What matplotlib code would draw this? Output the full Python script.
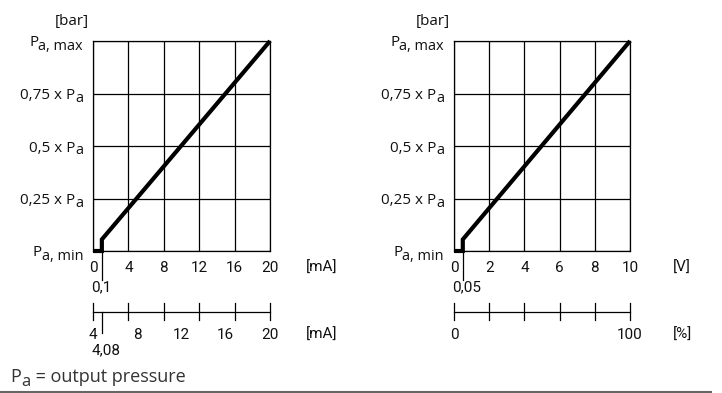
import matplotlib
matplotlib.use("Agg")
import matplotlib.pyplot as plt
from matplotlib.lines import Line2D
from matplotlib.transforms import offset_copy, blended_transform_factory
import numpy as np

plt.rcParams['font.family'] = ['Open Sans', 'DejaVu Sans']

# ---- data ----
y_ticks = [0, 0.25, 0.5, 0.75, 1.0]
# (main text, subscript) pairs
y_labels = [("P", "a, min"), ("0,25 x P", "a"), ("0,5 x P", "a"),
            ("0,75 x P", "a"), ("P", "a, max")]

# left chart: current signal
ma_ticks = [0, 4, 8, 12, 16, 20]
ma_curve_x = [0, 1.0, 1.0, 20]
ma_curve_y = [0, 0, 0.055, 1.0]
ma_step_label = "0,1"
ma2_labels = ["4", "8", "12", "16", "20"]
ma2_step_label = "4,08"

# right chart: voltage signal
v_ticks = [0, 2, 4, 6, 8, 10]
v_curve_x = [0, 0.5, 0.5, 10]
v_curve_y = [0, 0, 0.055, 1.0]
v_step_label = "0,05"
pct_labels = ["0", "100"]

W, H = 722, 393
fig = plt.figure(figsize=(W / 100, H / 100), dpi=100)
renderer = fig.canvas.get_renderer()

TXT = '#111111'
FSY = 11
NUMFONT = dict(family=['Roboto', 'DejaVu Sans'], fontweight='normal', fontsize=11)


def px2pt(p):
    return p * 72.0 / 100.0


def sub_label_right(trans, x, y, main, sub, fs, color):
    """Right-aligned label 'main' + lowered subscript 'sub' ending at (x, y)."""
    st = fig.text(x, y, sub, transform=offset_copy(trans, fig, x=0, y=-px2pt(8.5), units='points'),
                  ha='right', va='baseline', fontsize=fs * 0.95, color=color)
    w = st.get_window_extent(renderer).width
    fig.text(x, y, main, transform=offset_copy(trans, fig, x=-px2pt(w), y=-px2pt(5.5),
                                               units='points'),
             ha='right', va='baseline', fontsize=fs, color=color)


def make_panel(x0_px, x1_px, ticks, cx, cy, unit, step_label, scale2_labels, scale2_unit,
               scale2_step_label):
    top_px, bot_px = 41, 251
    ax = fig.add_axes([x0_px / W, 1 - bot_px / H, (x1_px - x0_px) / W, (bot_px - top_px) / H])
    wpx = x1_px - x0_px
    hpx = bot_px - top_px
    xmax = ticks[-1]
    ax.set_xlim(0, xmax)
    ax.set_ylim(0, 1)
    ax.set_xticks(ticks)
    ax.set_yticks(y_ticks)
    ax.set_xticklabels([])
    ax.set_yticklabels([])
    ax.tick_params(length=0)
    ax.grid(True, color='black', linewidth=0.9)
    for s in ax.spines.values():
        s.set_linewidth(0.9)
        s.set_color('black')
    ax.set_facecolor('none')

    # main curve
    ax.plot(cx, cy, color='black', linewidth=3.0, solid_capstyle='butt',
            solid_joinstyle='miter', clip_on=False, zorder=5)

    tr = ax.get_xaxis_transform()  # x data, y axes fraction
    fy = lambda px: -px / hpx
    fx = lambda px: px / wpx

    # y labels
    ytr = blended_transform_factory(ax.transAxes, ax.transData)
    for yv, (m, s) in zip(y_ticks, y_labels):
        sub_label_right(ytr, fx(-10), yv, m, s, FSY, TXT)
    ax.text(fx(-4), (bot_px - 22) / hpx, "[bar]", transform=ax.transAxes,
            ha='right', va='center', fontsize=FSY, color=TXT)

    # x tick labels
    for t in ticks:
        ax.text(t, fy(17), str(t), transform=tr, ha='center', va='center',
                color=TXT, **NUMFONT)
    ax.text(fx(wpx + 52), fy(17), unit, transform=ax.transAxes, ha='center', va='center',
            color=TXT, **NUMFONT)

    # step tick on main axis
    step_x = cx[1]
    ax.plot([step_x, step_x], [0, fy(29)], transform=tr, color='black', linewidth=0.9,
            clip_on=False)
    ax.text(-xmax * 1.5 / wpx, fy(36), step_label, transform=tr, ha='left', va='center',
            color=TXT, **NUMFONT)

    # secondary scale
    ax.plot([0, xmax], [fy(61), fy(61)], transform=tr, color='black', linewidth=0.9,
            clip_on=False)
    for t in ticks:
        ax.plot([t, t], [fy(52), fy(69)], transform=tr, color='black', linewidth=0.9,
                clip_on=False)
    pos2 = np.linspace(0, xmax, len(scale2_labels))
    for p, lab in zip(pos2, scale2_labels):
        ax.text(p, fy(84), lab, transform=tr, ha='center', va='center',
                color=TXT, **NUMFONT)
    ax.text(fx(wpx + 52), fy(84), scale2_unit, transform=ax.transAxes, ha='center',
            va='center', color=TXT, **NUMFONT)
    if scale2_step_label:
        ax.plot([step_x, step_x], [fy(61), fy(82)], transform=tr, color='black',
                linewidth=0.9, clip_on=False)
        ax.text(-xmax * 1.5 / wpx, fy(99), scale2_step_label, transform=tr, ha='left',
                va='center', color=TXT, **NUMFONT)
    return ax


make_panel(93, 270, ma_ticks, ma_curve_x, ma_curve_y, "[mA]", ma_step_label, ma2_labels,
           "[mA]", ma2_step_label)
make_panel(454, 630, v_ticks, v_curve_x, v_curve_y, "[V]", v_step_label, pct_labels,
           "[%]", None)

# footer: P_a = output pressure
FC = '#333333'
FFS = 13
t1 = fig.text(10 / W, 1 - 382 / H, "P", ha='left', va='baseline', fontsize=FFS, color=FC)
w1 = t1.get_window_extent(renderer).width
t2 = fig.text((10 + w1) / W, 1 - 386 / H, "a", ha='left', va='baseline', fontsize=FFS - 1,
              color=FC)
w2 = t2.get_window_extent(renderer).width
fig.text((10 + w1 + w2 + 1) / W, 1 - 382 / H, " = output pressure", ha='left', va='baseline',
         fontsize=FFS, color=FC)
fig.add_artist(Line2D([0, 711 / W], [1 - 392 / H, 1 - 392 / H], transform=fig.transFigure,
                      color='#666666', linewidth=1.5))

fig.savefig("out.png", dpi=100, facecolor='white')
